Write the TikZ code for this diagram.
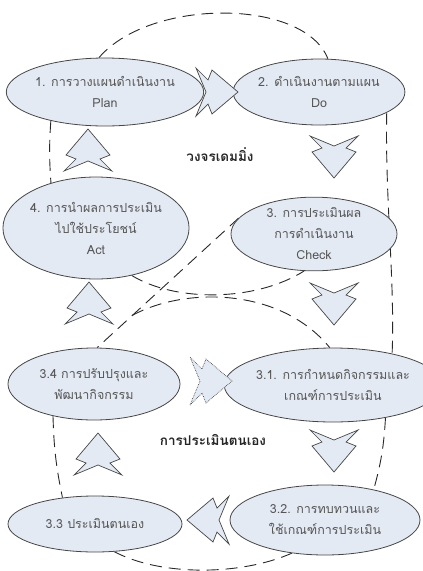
\documentclass[tikz,border=0pt]{standalone}
\usepackage{fontspec}
\newfontfamily\thaifont[Script=Thai]{Loma}
\usetikzlibrary{shapes.geometric, positioning, calc, backgrounds}
\definecolor{cyclefill}{RGB}{228, 234, 244}
\definecolor{cycleline}{RGB}{70, 70, 70}
\definecolor{cycletext}{RGB}{85, 85, 85}
\definecolor{loopdash}{RGB}{40, 40, 40}
\tikzset{
    stage/.style={
        ellipse, draw=cycleline, fill=cyclefill, text=cycletext, inner sep=0pt,
        line width=0.8pt, align=center, font=\thaifont\fontsize{12.5}{21}\selectfont
    },
    looplabel/.style={font=\thaifont\bfseries\fontsize{13.5}{15}\selectfont, text=black!85},
    loopline/.style={dash pattern=on 12pt off 7pt, line width=0.9pt, color=loopdash},
    blockarrow/.style={draw=cycleline, fill=cyclefill, line width=0.7pt},
    dotarrow/.style={blockarrow, densely dotted},
    zigarrow/.pic={
        \path[pic actions] (-21,24) -- (-9,12) -- (-5,22) -- (21,0) -- (-5,-22)
            -- (-9,-12) -- (-21,-24) -- (-11,0) -- cycle;
    },
}

\begin{document}
\begin{tikzpicture}[x=1pt, y=-1pt]
    \useasboundingbox (0,0) rectangle (423,571);

    % Deming cycle
    \node[stage, minimum width=176pt, minimum height=68pt] (plan) at (105,92) {1. การวางแผนดำเนินงาน\\Plan};
    \node[stage, minimum width=156pt, minimum height=66pt] (do) at (319,92) {2. ดำเนินงานตามแผน\\Do};
    \node[stage, minimum width=166pt, minimum height=58pt] (check) at (314,234) {3. การประเมินผล\\การดำเนินงาน\\Check};
    \node[stage, minimum width=162pt, minimum height=102pt] (act) at (96,228) {4. การนำผลการประเมิน\\ไปใช้ประโยชน์\\Act};

    % self assessment loop
    \node[stage, minimum width=176pt, minimum height=74pt] (define) at (333,385) {3.1. การกำหนดกิจกรรมและ\\เกณฑ์การประเมิน};
    \node[stage, minimum width=190pt, minimum height=70pt] (review) at (325,520) {3.2. การทบทวนและ\\ใช้เกณฑ์การประเมิน};
    \node[stage, minimum width=174pt, minimum height=56pt] (selfeval) at (95,524) {3.3 ประเมินตนเอง};
    \node[stage, minimum width=172pt, minimum height=72pt] (improve) at (94,384) {3.4 การปรับปรุงและ\\พัฒนากิจกรรม};

    \node[looplabel] (deming) at (220,155) {วงจรเดมมิ่ง};
    \node[looplabel] (selfloop) at (213,440) {การประเมินตนเอง};

    \pic[blockarrow] at (217,92) {zigarrow};
    \pic[blockarrow, rotate=-90] at (334,157) {zigarrow};
    \pic[blockarrow, rotate=90] at (88,150) {zigarrow};
    \pic[blockarrow, rotate=-90] at (334,304) {zigarrow};
    \pic[blockarrow, rotate=90] at (89,303) {zigarrow};
    \pic[dotarrow] at (211,381) {zigarrow};
    \pic[blockarrow, rotate=-90] at (334,451) {zigarrow};
    \pic[blockarrow, rotate=90] at (98,454) {zigarrow};
    \pic[blockarrow, rotate=180] at (208,520) {zigarrow};

    \begin{scope}[on background layer]
        \draw[loopline] (plan.100) .. controls (150,-2) and (304,-2) .. (do.75);
        \draw[loopline] (plan.208) to[bend right=4] (act.135);
        \draw[loopline] (do.343) .. controls (385,200) and (395,280) .. (define.28);
        \draw[loopline] (act.307) .. controls (175,302) and (255,302) .. (check.255);
        \draw[loopline] (check.168) -- (improve.85) coordinate[pos=0.75] (split);
        \draw[loopline] (split) .. controls (185,287) and (280,287) .. (define.95);
        \draw[loopline] (improve.218) to[bend right=5] (selfeval.141);
        \draw[loopline] (define.328) to[bend left=6] (review.32);
        \draw[loopline] (selfeval.305) .. controls (160,576) and (240,576) .. (review.225);
    \end{scope}
\end{tikzpicture}
\end{document}
